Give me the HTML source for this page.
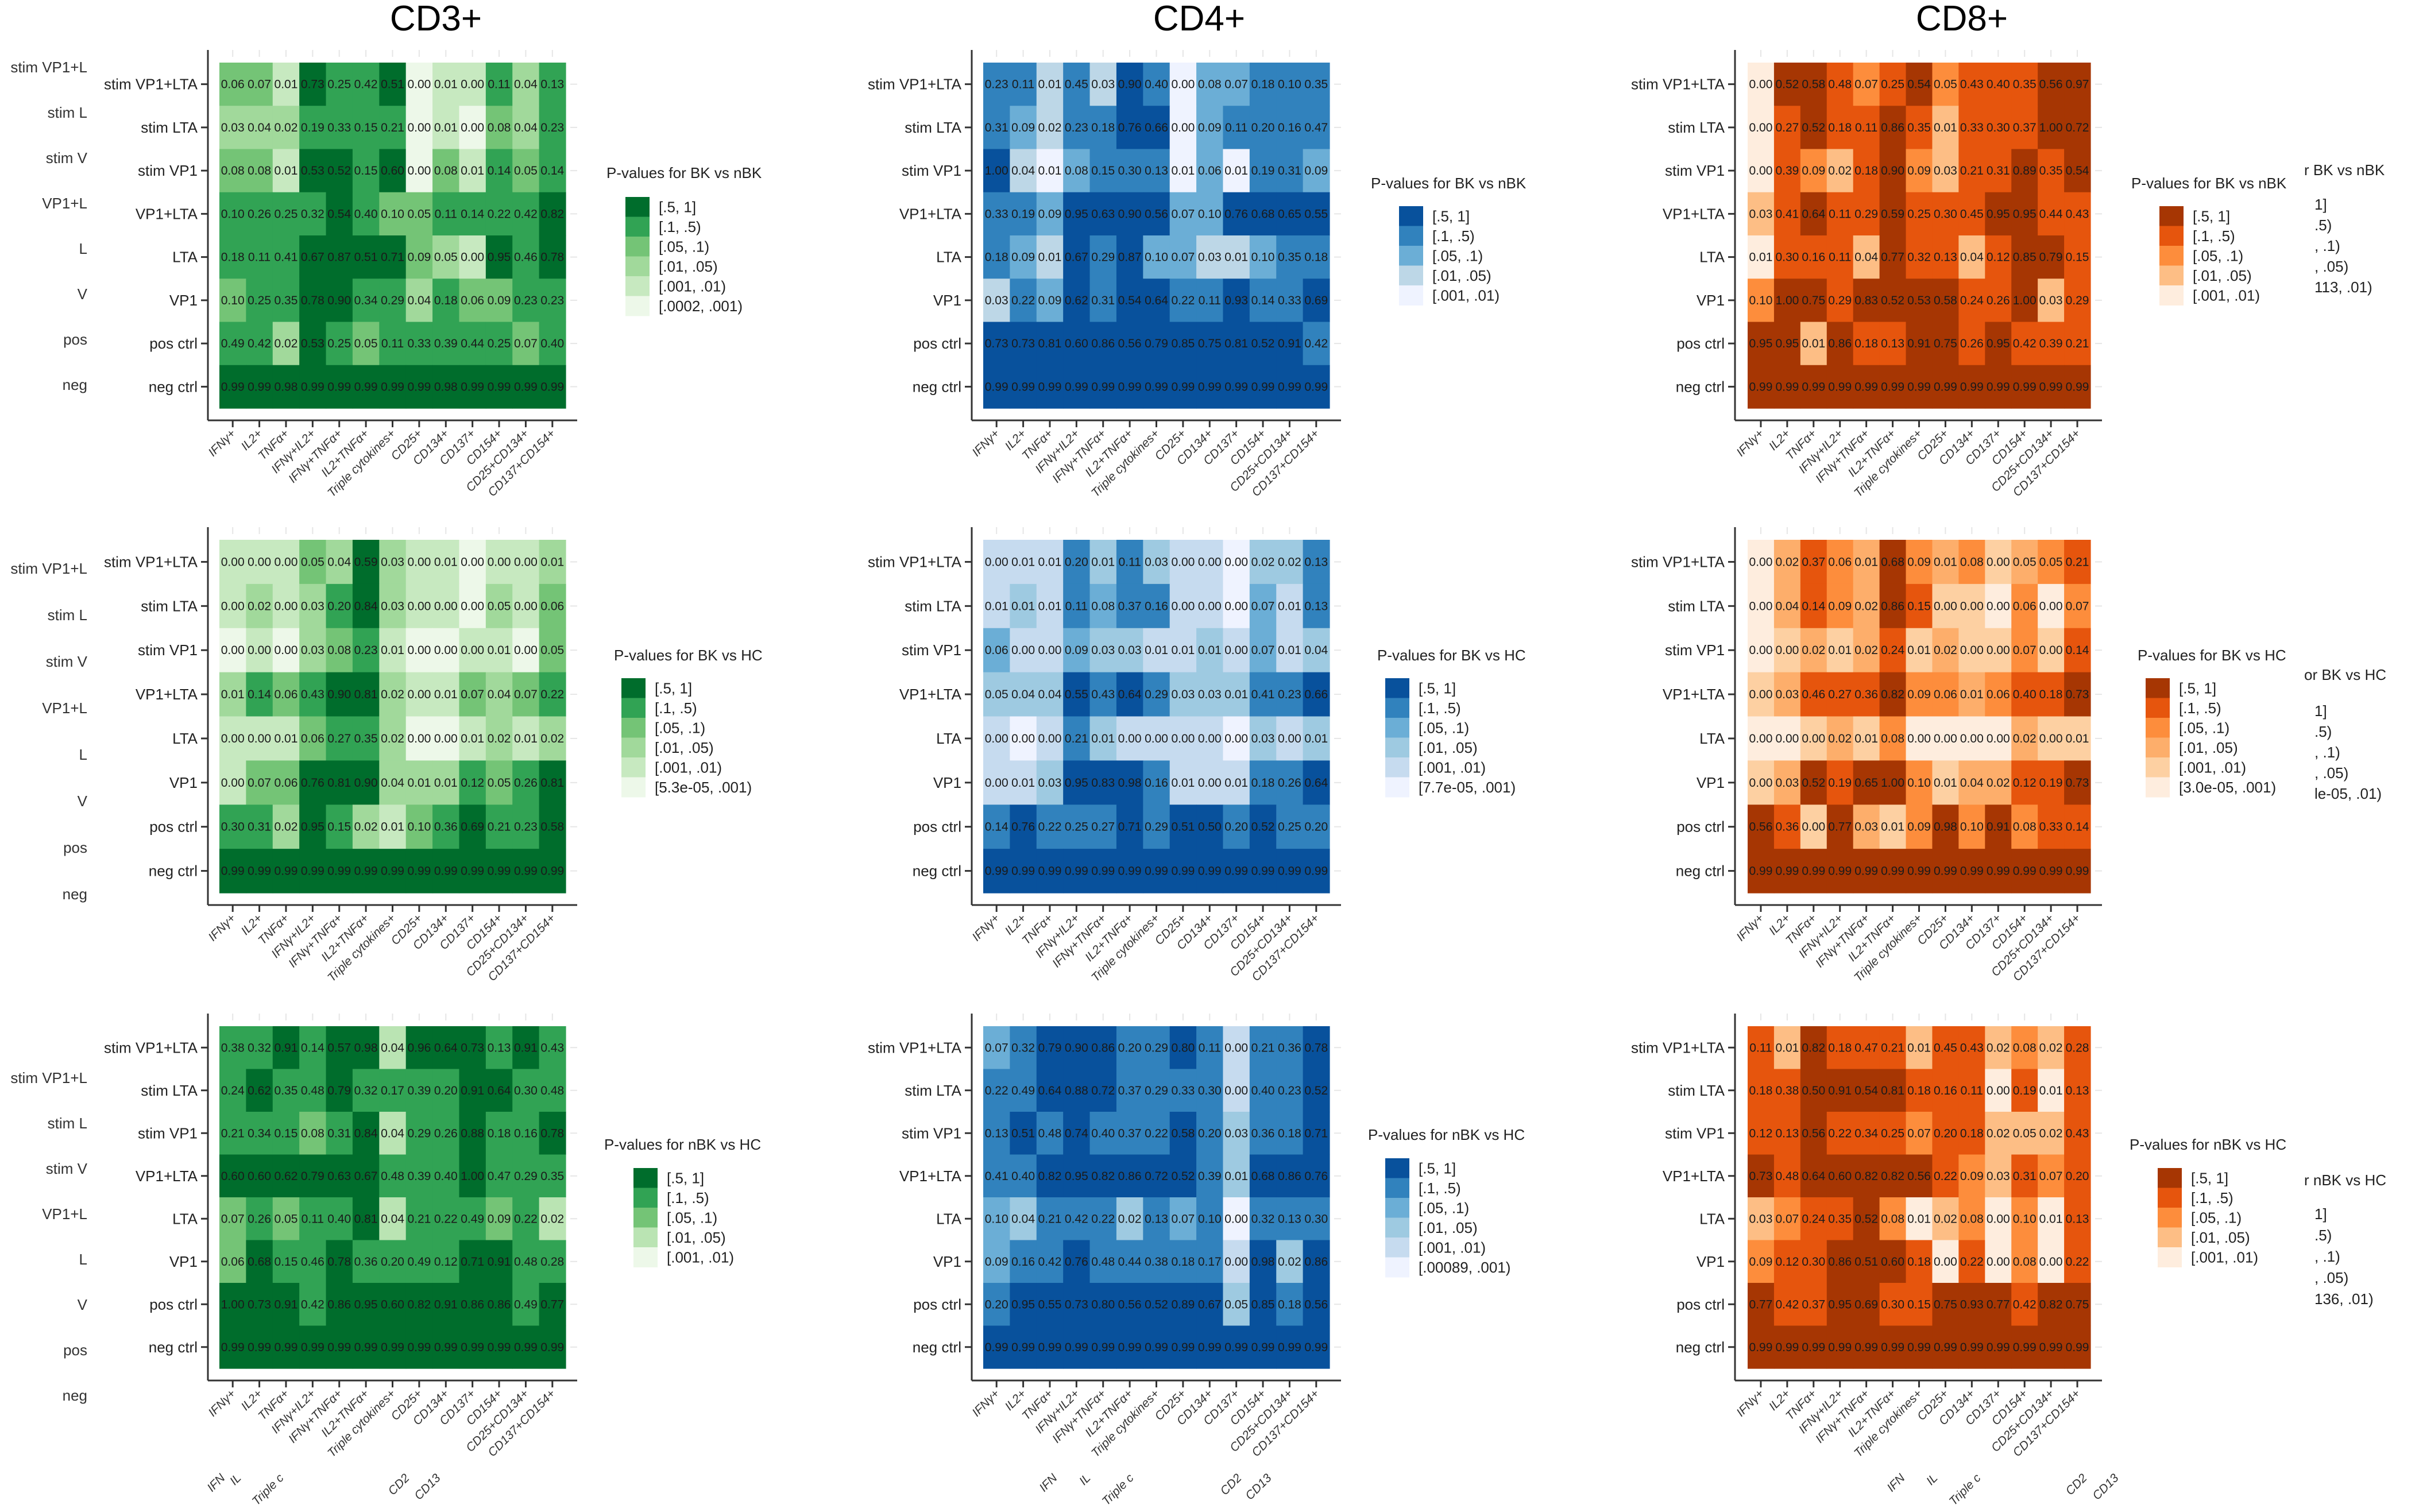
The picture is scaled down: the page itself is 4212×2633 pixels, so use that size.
<!DOCTYPE html>
<html><head><meta charset="utf-8">
<style>
html,body{margin:0;padding:0;background:#fff;}
svg{display:block;font-family:"Liberation Sans",Arial,sans-serif;}
</style></head>
<body>
<svg id="fig" width="4212" height="2633" viewBox="0 0 4212 2633" xmlns="http://www.w3.org/2000/svg">
<rect x="0" y="0" width="4212" height="2633" fill="#fff"/>
<text x="759" y="53" font-size="62" text-anchor="middle" fill="#000">CD3+</text>
<text x="2088" y="53" font-size="62" text-anchor="middle" fill="#000">CD4+</text>
<text x="3416" y="53" font-size="62" text-anchor="middle" fill="#000">CD8+</text>
</svg>
<script>
const rowLabels = ["stim VP1+LTA","stim LTA","stim VP1","VP1+LTA","LTA","VP1","pos ctrl","neg ctrl"];
const colLabels = ["IFNγ+","IL2+","TNFα+","IFNγ+IL2+","IFNγ+TNFα+","IL2+TNFα+","Triple cytokines+","CD25+","CD134+","CD137+","CD154+","CD25+CD134+","CD137+CD154+"];
const breaks = [0.5,0.1,0.05,0.01,0.001];

const p1Values = [
[.06,.07,.009,.73,.25,.42,.51,.0005,.009,.004,.11,.04,.13],
[.03,.04,.02,.19,.33,.15,.21,.0005,.009,.0005,.08,.04,.23],
[.08,.08,.009,.53,.52,.15,.60,.0005,.08,.009,.14,.05,.14],
[.10,.26,.25,.32,.54,.40,.098,.05,.11,.14,.22,.42,.82],
[.18,.11,.41,.67,.87,.51,.71,.09,.049,.004,.95,.46,.78],
[.098,.25,.35,.78,.90,.34,.29,.04,.18,.06,.09,.23,.23],
[.49,.42,.02,.53,.25,.05,.11,.33,.39,.44,.25,.07,.40],
[.99,.99,.98,.99,.99,.99,.99,.99,.98,.99,.99,.99,.99]];
const p2Values = [
[.23,.11,.01,.45,.03,.90,.40,.004,.08,.07,.18,.10,.35],
[.31,.09,.02,.23,.18,.76,.66,.004,.09,.11,.20,.16,.47],
[1.00,.04,.009,.08,.15,.30,.13,.009,.06,.009,.19,.31,.09],
[.33,.19,.09,.95,.63,.90,.56,.07,.099,.76,.68,.65,.55],
[.18,.09,.01,.67,.29,.87,.099,.07,.03,.01,.099,.35,.18],
[.03,.22,.09,.62,.31,.54,.64,.22,.11,.93,.14,.33,.69],
[.73,.73,.81,.60,.86,.56,.79,.85,.75,.81,.52,.91,.42],
[.99,.99,.99,.99,.99,.99,.99,.99,.99,.99,.99,.99,.99]];
const p3Values = [
[.004,.52,.58,.48,.07,.25,.54,.05,.43,.40,.35,.56,.97],
[.004,.27,.52,.18,.11,.86,.35,.01,.33,.30,.37,1.00,.72],
[.004,.39,.09,.02,.18,.90,.09,.03,.21,.31,.89,.35,.54],
[.03,.41,.64,.11,.29,.59,.25,.30,.45,.95,.95,.44,.43],
[.009,.30,.16,.11,.04,.77,.32,.13,.04,.12,.85,.79,.15],
[.099,1.00,.75,.29,.83,.52,.53,.58,.24,.26,1.00,.03,.29],
[.95,.95,.01,.86,.18,.13,.91,.75,.26,.95,.42,.39,.21],
[.99,.99,.99,.99,.99,.99,.99,.99,.99,.99,.99,.99,.99]];
const p4Values = [
[.004,.004,.004,.05,.04,.59,.03,.004,.009,.0005,.004,.004,.012],
[.004,.02,.004,.03,.20,.84,.03,.004,.004,.0005,.049,.004,.06],
[.0005,.004,.0005,.03,.08,.23,.009,.0005,.0005,.004,.009,.0005,.05],
[.012,.14,.06,.43,.90,.81,.02,.004,.009,.07,.04,.07,.22],
[.004,.004,.009,.06,.27,.35,.02,.0005,.0005,.009,.02,.009,.02],
[.004,.07,.06,.76,.81,.90,.04,.012,.012,.12,.05,.26,.81],
[.30,.31,.02,.95,.15,.02,.009,.099,.36,.69,.21,.23,.58],
[.99,.99,.99,.99,.99,.99,.99,.99,.99,.99,.99,.99,.99]];
const p5Values = [
[.004,.009,.009,.20,.012,.11,.03,.004,.004,.0005,.02,.02,.13],
[.009,.012,.009,.11,.08,.37,.16,.004,.004,.0005,.07,.009,.13],
[.06,.004,.004,.09,.03,.03,.009,.009,.012,.004,.07,.009,.04],
[.049,.04,.04,.55,.43,.64,.29,.03,.03,.012,.41,.23,.66],
[.004,.0005,.004,.21,.012,.004,.004,.004,.004,.0005,.03,.004,.012],
[.004,.009,.03,.95,.83,.98,.16,.009,.004,.009,.18,.26,.64],
[.14,.76,.22,.25,.27,.71,.29,.51,.50,.20,.52,.25,.20],
[.99,.99,.99,.99,.99,.99,.99,.99,.99,.99,.99,.99,.99]];
const p6Values = [
[.0005,.02,.37,.06,.012,.68,.09,.012,.08,.004,.049,.05,.21],
[.0005,.04,.14,.09,.02,.86,.15,.004,.004,.0005,.06,.0005,.07],
[.0005,.004,.02,.009,.02,.24,.009,.02,.004,.004,.07,.004,.14],
[.004,.03,.46,.27,.36,.82,.09,.06,.012,.06,.40,.18,.73],
[.0005,.0005,.004,.02,.009,.08,.0005,.0005,.0005,.0005,.02,.004,.009],
[.004,.03,.52,.19,.65,1.00,.099,.009,.04,.02,.12,.19,.73],
[.56,.36,.004,.77,.03,.009,.09,.98,.099,.91,.08,.33,.14],
[.99,.99,.99,.99,.99,.99,.99,.99,.99,.99,.99,.99,.99]];
const p7Values = [
[.38,.32,.91,.14,.57,.98,.04,.96,.64,.73,.13,.91,.43],
[.24,.62,.35,.48,.79,.32,.17,.39,.20,.91,.64,.30,.48],
[.21,.34,.15,.08,.31,.84,.04,.29,.26,.88,.18,.16,.78],
[.60,.60,.62,.79,.63,.67,.48,.39,.40,1.00,.47,.29,.35],
[.07,.26,.05,.11,.40,.81,.04,.21,.22,.49,.09,.22,.02],
[.06,.68,.15,.46,.78,.36,.20,.49,.12,.71,.91,.48,.28],
[1.00,.73,.91,.42,.86,.95,.60,.82,.91,.86,.86,.49,.77],
[.99,.99,.99,.99,.99,.99,.99,.99,.99,.99,.99,.99,.99]];
const p8Values = [
[.07,.32,.79,.90,.86,.20,.29,.80,.11,.004,.21,.36,.78],
[.22,.49,.64,.88,.72,.37,.29,.33,.30,.004,.40,.23,.52],
[.13,.51,.48,.74,.40,.37,.22,.58,.20,.03,.36,.18,.71],
[.41,.40,.82,.95,.82,.86,.72,.52,.39,.012,.68,.86,.76],
[.099,.04,.21,.42,.22,.02,.13,.07,.10,.0009,.32,.13,.30],
[.09,.16,.42,.76,.48,.44,.38,.18,.17,.004,.98,.02,.86],
[.20,.95,.55,.73,.80,.56,.52,.89,.67,.049,.85,.18,.56],
[.99,.99,.99,.99,.99,.99,.99,.99,.99,.99,.99,.99,.99]];
const p9Values = [
[.11,.012,.82,.18,.47,.21,.012,.45,.43,.02,.08,.02,.28],
[.18,.38,.50,.91,.54,.81,.18,.16,.11,.004,.19,.009,.13],
[.12,.13,.56,.22,.34,.25,.07,.20,.18,.02,.049,.02,.43],
[.73,.48,.64,.60,.82,.82,.56,.22,.09,.03,.31,.07,.20],
[.03,.07,.24,.35,.52,.08,.009,.02,.08,.004,.099,.009,.13],
[.09,.12,.30,.86,.51,.60,.18,.004,.22,.004,.08,.004,.22],
[.77,.42,.37,.95,.69,.30,.15,.75,.93,.77,.42,.82,.75],
[.99,.99,.99,.99,.99,.99,.99,.99,.99,.99,.99,.99,.99]];

const legend5 = ["[.5, 1]","[.1, .5)","[.05, .1)","[.01, .05)","[.001, .01)"];
const legendP1 = ["[.5, 1]","[.1, .5)","[.05, .1)","[.01, .05)","[.001, .01)","[.0002, .001)"];
const legendP4 = ["[.5, 1]","[.1, .5)","[.05, .1)","[.01, .05)","[.001, .01)","[5.3e-05, .001)"];
const legendP5 = ["[.5, 1]","[.1, .5)","[.05, .1)","[.01, .05)","[.001, .01)","[7.7e-05, .001)"];
const legendP6 = ["[.5, 1]","[.1, .5)","[.05, .1)","[.01, .05)","[.001, .01)","[3.0e-05, .001)"];
const legendP8 = ["[.5, 1]","[.1, .5)","[.05, .1)","[.01, .05)","[.001, .01)","[.00089, .001)"];

const greens6 = ['#006d2c','#31a354','#74c476','#a1d99b','#c7e9c0','#edf8e9'];
const greens5 = ['#006d2c','#31a354','#74c476','#bae4b3','#edf8e9'];
const blues5 = ['#08519c','#3182bd','#6baed6','#bdd7e7','#eff3ff'];
const blues6 = ['#08519c','#3182bd','#6baed6','#9ecae1','#c6dbef','#eff3ff'];
const oranges5 = ['#a63603','#e6550d','#fd8d3c','#fdbe85','#feedde'];
const oranges6 = ['#a63603','#e6550d','#fd8d3c','#fdae6b','#fdd0a2','#feedde'];

const NS = "http://www.w3.org/2000/svg";
const svg = document.getElementById('fig');
function mk(tag, attrs, parent){
  const e = document.createElementNS(NS, tag);
  for (const k in attrs) e.setAttribute(k, attrs[k]);
  (parent||svg).appendChild(e);
  return e;
}
function binIndex(v, n){
  let i = 0;
  while (i < breaks.length && v < breaks[i]) i++;
  return Math.min(i, n-1);
}

function drawPanel(p){
  const g = mk('g', {});
  
  
  const nC = colLabels.length, nR = rowLabels.length;
  const cw = (p.x1 - p.x0) / nC, rh = (p.y1 - p.y0) / nR;
  const xS = i => p.x0 + i * cw;
  const yS = j => p.y0 + j * rh;
  // faint grid ticks
  for (let i = 0; i < nC; i++) {
    const cx = xS(i) + cw/2;
    mk('line', {x1:cx, y1:p.y0-22, x2:cx, y2:p.y0-10, stroke:'#e6e6e6', 'stroke-width':2}, g);
  }
  for (let j = 0; j < nR; j++) {
    const cy = yS(j) + rh/2;
    mk('line', {x1:p.x1+8, y1:cy, x2:p.x1+20, y2:cy, stroke:'#e6e6e6', 'stroke-width':2}, g);
  }
  // cells
  for (let j = 0; j < nR; j++) {
    for (let i = 0; i < nC; i++) {
      const v = p.values[j][i];
      const r = mk('rect', {x:xS(i), y:yS(j), width:cw+0.6, height:rh+0.6, fill:p.palette[binIndex(v, p.palette.length)]}, g);
      
      
    }
  }
  for (let j = 0; j < nR; j++) {
    for (let i = 0; i < nC; i++) {
      const v = p.values[j][i];
      const t = mk('text', {x:xS(i)+cw/2, y:yS(j)+rh/2+7, 'font-size':21, 'text-anchor':'middle', fill:'#1a1a1a'}, g);
      t.textContent = v.toFixed(2);
      
      
    }
  }
  // axes
  const axY = p.y1 + 21;
  mk('line', {x1:p.axisX, y1:p.y0-22, x2:p.axisX, y2:axY, stroke:'#333', 'stroke-width':3}, g);
  mk('line', {x1:p.axisX, y1:axY, x2:p.x1+20, y2:axY, stroke:'#333', 'stroke-width':3}, g);
  for (let j = 0; j < nR; j++) {
    const cy = yS(j) + rh/2;
    mk('line', {x1:p.axisX-12, y1:cy, x2:p.axisX, y2:cy, stroke:'#333', 'stroke-width':3}, g);
    const t = mk('text', {x:p.axisX-18, y:cy+9, 'font-size':26, 'text-anchor':'end', fill:'#222'}, g);
    t.textContent = rowLabels[j];
    
    
  }
  for (let i = 0; i < nC; i++) {
    const cx = xS(i) + cw/2;
    mk('line', {x1:cx, y1:axY, x2:cx, y2:axY+12, stroke:'#333', 'stroke-width':3}, g);
    const tx = cx + 6, ty = axY + 24;
    const t = mk('text', {x:tx, y:ty, 'font-size':21, 'font-style':'italic', 'text-anchor':'end', fill:'#333', transform:`rotate(-45 ${tx} ${ty})`}, g);
    t.textContent = colLabels[i];
    
    
  }
  // legend
  const lg = mk('g', {}, g);
  
  
  const tt = mk('text', {x:p.lx, y:p.ly, 'font-size':26, fill:'#222'}, lg);
  tt.textContent = p.title;
  
  
  const kh = 34.5;
  for (let k = 0; k < p.legend.length; k++) {
    const ky = p.ky + k * kh;
    const kr = mk('rect', {x:p.kx, y:ky, width:42, height:kh+0.5, fill:p.palette[k]}, lg);
    
    
    const kt = mk('text', {x:p.kx+58, y:ky+kh/2+9, 'font-size':26, fill:'#222'}, lg);
    kt.textContent = p.legend[k];
    
    
  }
}

const X = [[382,985,362],[1712,2315,1692],[3043,3640,3021]];
const Y = [[109,711],[940,1555],[1787,2383]];
const panels = [
 {name:'cd3-bk-vs-nbk', c:0, r:0, values:p1Values, palette:greens6, legend:legendP1, title:'P-values for BK vs nBK', lx:1056, ly:310, kx:1089, ky:343},
 {name:'cd4-bk-vs-nbk', c:1, r:0, values:p2Values, palette:blues5, legend:legend5, title:'P-values for BK vs nBK', lx:2387, ly:328, kx:2436, ky:359},
 {name:'cd8-bk-vs-nbk', c:2, r:0, values:p3Values, palette:oranges5, legend:legend5, title:'P-values for BK vs nBK', lx:3711, ly:328, kx:3760, ky:359},
 {name:'cd3-bk-vs-hc', c:0, r:1, values:p4Values, palette:greens6, legend:legendP4, title:'P-values for BK vs HC', lx:1069, ly:1150, kx:1082, ky:1181},
 {name:'cd4-bk-vs-hc', c:1, r:1, values:p5Values, palette:blues6, legend:legendP5, title:'P-values for BK vs HC', lx:2398, ly:1150, kx:2412, ky:1181},
 {name:'cd8-bk-vs-hc', c:2, r:1, values:p6Values, palette:oranges6, legend:legendP6, title:'P-values for BK vs HC', lx:3722, ly:1150, kx:3736, ky:1181},
 {name:'cd3-nbk-vs-hc', c:0, r:2, values:p7Values, palette:greens5, legend:legend5, title:'P-values for nBK vs HC', lx:1052, ly:2002, kx:1103, ky:2034},
 {name:'cd4-nbk-vs-hc', c:1, r:2, values:p8Values, palette:blues6, legend:legendP8, title:'P-values for nBK vs HC', lx:2382, ly:1985, kx:2412, ky:2017},
 {name:'cd8-nbk-vs-hc', c:2, r:2, values:p9Values, palette:oranges5, legend:legend5, title:'P-values for nBK vs HC', lx:3708, ly:2002, kx:3757, ky:2034}
];
panels.forEach(p => drawPanel(Object.assign({x0:X[p.c][0], x1:X[p.c][1], axisX:X[p.c][2], y0:Y[p.r][0], y1:Y[p.r][1]}, p)));

// ghost overlay artifacts (left labels)
const ghostLeft = ["stim VP1+L","stim L","stim V","VP1+L","L","V","pos","neg"];
const ghostStarts = [[117,79],[990,81],[1877,79]];
ghostStarts.forEach(gs => {
  ghostLeft.forEach((s, k) => {
    const t = mk('text', {x:152, y:gs[0]+k*gs[1]+9, 'font-size':26, 'text-anchor':'end', fill:'#333'});
    t.textContent = s;
    
    
  });
});
// ghost right legends
const ghostRight = [
  {title:'r BK vs nBK', ty:305, items:['1]','.5)',', .1)',', .05)','113, .01)'], iy:365, dy:36},
  {title:'or BK vs HC', ty:1184, items:['1]','.5)',', .1)',', .05)','le-05, .01)'], iy:1247, dy:36},
  {title:'r nBK vs HC', ty:2064, items:['1]','.5)',', .1)',', .05)','136, .01)'], iy:2123, dy:37}
];
ghostRight.forEach(gr => {
  const t = mk('text', {x:4012, y:gr.ty, 'font-size':26, fill:'#222'});
  t.textContent = gr.title;
  
  
  gr.items.forEach((s, k) => {
    const it = mk('text', {x:4030, y:gr.iy+k*gr.dy, 'font-size':26, fill:'#222'});
    it.textContent = s;
    
    
  });
});
// ghost bottom labels
const ghostBottom = ["IFN","IL","Triple c","CD2","CD13"];
const ghostBX = [[393,421,495,714,768],[1842,1900,1975,2163,2215],[3318,3375,3450,3635,3690]];
ghostBX.forEach(xs => {
  ghostBottom.forEach((s, k) => {
    const tx = xs[k], ty = 2575;
    const t = mk('text', {x:tx, y:ty, 'font-size':21, 'font-style':'italic', 'text-anchor':'end', fill:'#333', transform:`rotate(-45 ${tx} ${ty})`});
    t.textContent = s;
    
    
  });
});
</script>
</body></html>
